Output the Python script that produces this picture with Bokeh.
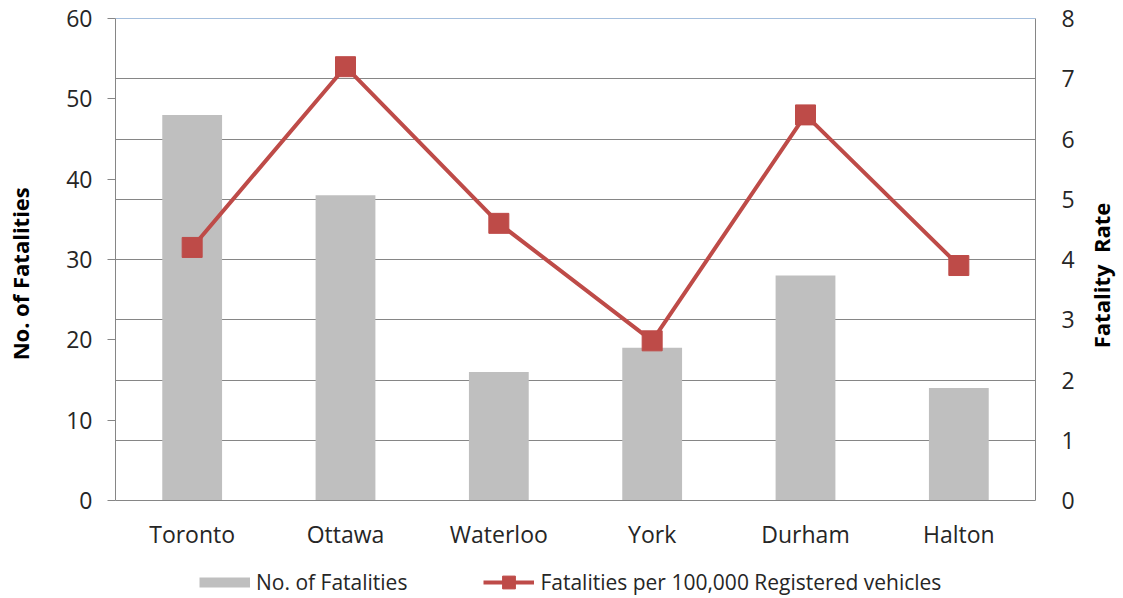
import math
from bokeh.plotting import figure
from bokeh.layouts import column
from bokeh.models import (Range1d, LinearAxis, FixedTicker, Grid, Span, Legend,
                          LegendItem, ColumnDataSource, FactorRange, Label)
from bokeh.embed import file_html
from bokeh.resources import INLINE

regions = ["Toronto", "Ottawa", "Waterloo", "York", "Durham", "Halton"]
fatalities = [48, 38, 16, 19, 28, 14]
rate = [4.2, 7.2, 4.6, 2.65, 6.4, 3.9]
left_ticks = [0, 10, 20, 30, 40, 50, 60]
right_ticks = [0, 1, 2, 3, 4, 5, 6, 7, 8]

BAR = "#BFBFBF"
RED = "#BE4B48"
AXIS = "#868686"
TXT = "#262626"
FONT = "Open Sans"
NB = "\u00a0"

src = ColumnDataSource(dict(region=regions, fat=fatalities, rate=rate))

p = figure(x_range=FactorRange(factors=regions), y_range=Range1d(0, 60),
           width=1123, height=552, output_backend="svg", toolbar_location=None,
           min_border_left=115, min_border_right=88, min_border_top=18,
           min_border_bottom=50)
p.extra_y_ranges = {"rate": Range1d(0, 8)}
p.outline_line_color = None
p.background_fill_color = "white"
p.xgrid.visible = False
p.ygrid.visible = False

g = Grid(dimension=1, ticker=FixedTicker(ticks=right_ticks[1:-1]), y_range_name="rate",
         grid_line_color=AXIS, grid_line_width=1)
p.add_layout(g)

p.add_layout(Span(location=60, dimension="width", line_color="#4A7EBB", line_width=1))

bars = p.vbar(x="region", top="fat", width=0.39, source=src, fill_color=BAR, line_color=None)
ln = p.line(x="region", y="rate", source=src, y_range_name="rate", line_color=RED, line_width=4)
sc = p.scatter(x="region", y="rate", source=src, y_range_name="rate", marker="square",
               size=20, fill_color=RED, line_color=RED)

# left axis
ya = p.yaxis[0]
ya.ticker = FixedTicker(ticks=left_ticks)
ya.axis_label = "No. of Fatalities" + NB * 5
ya.axis_label_text_font = FONT
ya.axis_label_text_font_style = "bold"
ya.axis_label_text_font_size = "22px"
ya.axis_label_text_color = "black"
ya.axis_label_standoff = 28
ya.major_label_text_font = FONT
ya.major_label_text_font_size = "23px"
ya.major_label_text_color = TXT
ya.major_label_standoff = 15
ya.major_tick_out = 8
ya.major_tick_in = 0
ya.minor_tick_out = 0
ya.minor_tick_in = 0
ya.axis_line_color = AXIS
ya.major_tick_line_color = AXIS

# right axis
ra = LinearAxis(y_range_name="rate", ticker=FixedTicker(ticks=right_ticks))
ra.major_label_text_font = FONT
ra.major_label_text_font_size = "23px"
ra.major_label_text_color = TXT
ra.major_label_standoff = 26
ra.major_tick_out = 0
ra.major_tick_in = 0
ra.minor_tick_out = 0
ra.minor_tick_in = 0
ra.axis_line_color = AXIS
p.add_layout(ra, "right")

# right axis title, reading bottom-to-top, in the right side panel
rt = Label(text="Fatality" + NB + " Rate", angle=math.pi / 2,
           x=23, y=225, x_units="screen", y_units="screen",
           text_align="center", text_baseline="middle",
           text_font=FONT, text_font_style="bold", text_font_size="22px",
           text_color="black")
p.add_layout(rt, "right")

# x axis
xa = p.xaxis[0]
xa.major_label_text_font = FONT
xa.major_label_text_font_size = "23px"
xa.major_label_text_color = TXT
xa.major_label_standoff = 17
xa.major_tick_out = 0
xa.major_tick_in = 0
xa.axis_line_color = AXIS

# legend strip (separate figure below the chart; its data lie outside its view)
p2 = figure(x_range=FactorRange(factors=regions), y_range=Range1d(1000, 1001),
            width=1123, height=46, output_backend="svg", toolbar_location=None,
            x_axis_type=None, y_axis_type=None, min_border=0,
            min_border_left=0, min_border_right=0, min_border_top=0, min_border_bottom=0)
p2.outline_line_color = None
p2.xgrid.visible = False
p2.ygrid.visible = False
k_bar = p2.line(x="region", y="fat", source=src, line_color=BAR, line_width=10,
                line_cap="butt")
k_ln = p2.line(x="region", y="rate", source=src, line_color=RED, line_width=4)
k_sc = p2.scatter(x="region", y="rate", source=src, marker="square",
                  fill_color=RED, line_color=RED)
legend = Legend(items=[LegendItem(label="No. of Fatalities", renderers=[k_bar]),
                       LegendItem(label="Fatalities per 100,000 Registered vehicles",
                                  renderers=[k_ln, k_sc])],
                orientation="horizontal", location=(84, 0),
                glyph_width=51, glyph_height=32, label_standoff=6, spacing=76,
                padding=0, margin=0, border_line_color=None, background_fill_alpha=0,
                label_text_font=FONT, label_text_font_size="21px", label_text_color=TXT)
p2.add_layout(legend)

layout = column(p, p2, spacing=0)
open("out.html", "w").write(file_html(layout, INLINE))
